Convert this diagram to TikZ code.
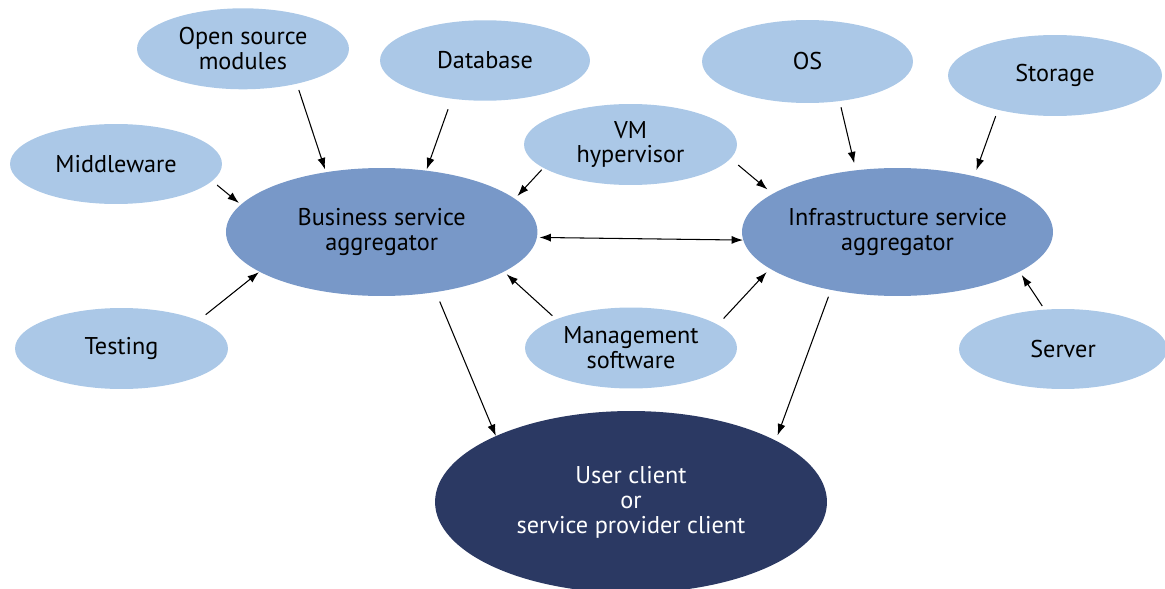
\documentclass[tikz,border=0pt]{standalone}
\usepackage{fontspec}
\setmainfont{PT Sans}
\usetikzlibrary{shapes.geometric,arrows.meta}
\definecolor{lightb}{HTML}{ABC8E7}
\definecolor{midb}{HTML}{7898C8}
\definecolor{darkb}{HTML}{2B3963}
\begin{document}
\begin{tikzpicture}[x=0.02cm,y=-0.02cm,
  el/.style={ellipse,inner sep=0pt,outer sep=0pt,align=center,font=\fontsize{13.8}{14.2}\selectfont},
  lt/.style={el,fill=lightb},
  md/.style={el,fill=midb},
  dk/.style={el,fill=darkb,text=white},
  conn/.style={-{Latex[length=6.5pt,width=4.6pt]},line width=0.6pt},
  bi/.style={{Latex[length=6.5pt,width=4.6pt]}-{Latex[length=6.5pt,width=4.6pt]},line width=0.6pt}]
\useasboundingbox (0,0) rectangle (1165,588);
\node[lt,minimum width=4.24cm,minimum height=1.62cm] (osm) at (243,48.8) {Open source\\modules};
\node[lt,minimum width=4.2cm,minimum height=1.61cm] (db) at (485,60.5) {Database};
\node[lt,minimum width=4.24cm,minimum height=1.6cm] (mw) at (116,164) {Middleware};
\node[lt,minimum width=4.26cm,minimum height=1.62cm] (vm) at (630.5,144.5) {VM\\hypervisor};
\node[lt,minimum width=4.22cm,minimum height=1.66cm] (os) at (807.5,61.5) {OS};
\node[lt,minimum width=4.28cm,minimum height=1.62cm] (st) at (1055,75.5) {Storage};
\node[md,minimum width=6.23cm,minimum height=2.56cm] (bsa) at (381.7,232) {Business service\\aggregator};
\node[md,minimum width=6.22cm,minimum height=2.56cm] (isa) at (897.5,232) {Infrastructure service\\aggregator};
\node[lt,minimum width=4.26cm,minimum height=1.62cm] (test) at (121.5,348.5) {Testing};
\node[lt,minimum width=4.24cm,minimum height=1.62cm] (mgmt) at (631,348) {Management\\software};
\node[lt,minimum width=4.16cm,minimum height=1.6cm] (srv) at (1063,349) {Server};
\node[dk,minimum width=7.84cm,minimum height=3.64cm] (uc) at (631,502) {User client\\or\\service provider client};

\draw[conn,shorten <=0.132cm,shorten >=0.062cm] (osm.-33.1) -- (bsa.133.0);
\draw[conn,shorten <=0.226cm,shorten >=0.028cm] (db.-131.6) -- (bsa.54.5);
\draw[conn,shorten <=0.132cm,shorten >=0.052cm] (mw.-10.6) -- (bsa.169.5);
\draw[conn,shorten <=0.054cm,shorten >=0.076cm] (vm.-165.4) -- (bsa.14.9);
\draw[conn,shorten <=0.204cm,shorten >=0.137cm] (vm.-8.2) -- (isa.163.9);
\draw[conn,shorten <=0.128cm,shorten >=0.145cm] (os.-51.3) -- (isa.124.2);
\draw[conn,shorten <=0.136cm,shorten >=0.132cm] (st.-149.4) -- (isa.36.2);
\draw[conn,shorten <=0.186cm,shorten >=0.016cm] (test.20.3) -- (bsa.-162.8);
\draw[conn,shorten <=0.106cm,shorten >=0.075cm] (mgmt.159.3) -- (bsa.-18.6);
\draw[conn,shorten <=0.171cm,shorten >=0.096cm] (mgmt.15.1) -- (isa.-164.3);
\draw[conn,shorten <=0.087cm,shorten >=0.08cm] (srv.115.3) -- (isa.-18.0);
\draw[bi,shorten <=0.052cm,shorten >=0.006cm] (bsa.-2.7) -- (isa.-177.3);
\draw[conn,shorten <=0.207cm,shorten >=0.004cm] (bsa.-48.1) -- (uc.154.8);
\draw[conn,shorten <=0.147cm,shorten >=0.112cm] (isa.-139.1) -- (uc.23.0);
\end{tikzpicture}
\end{document}
